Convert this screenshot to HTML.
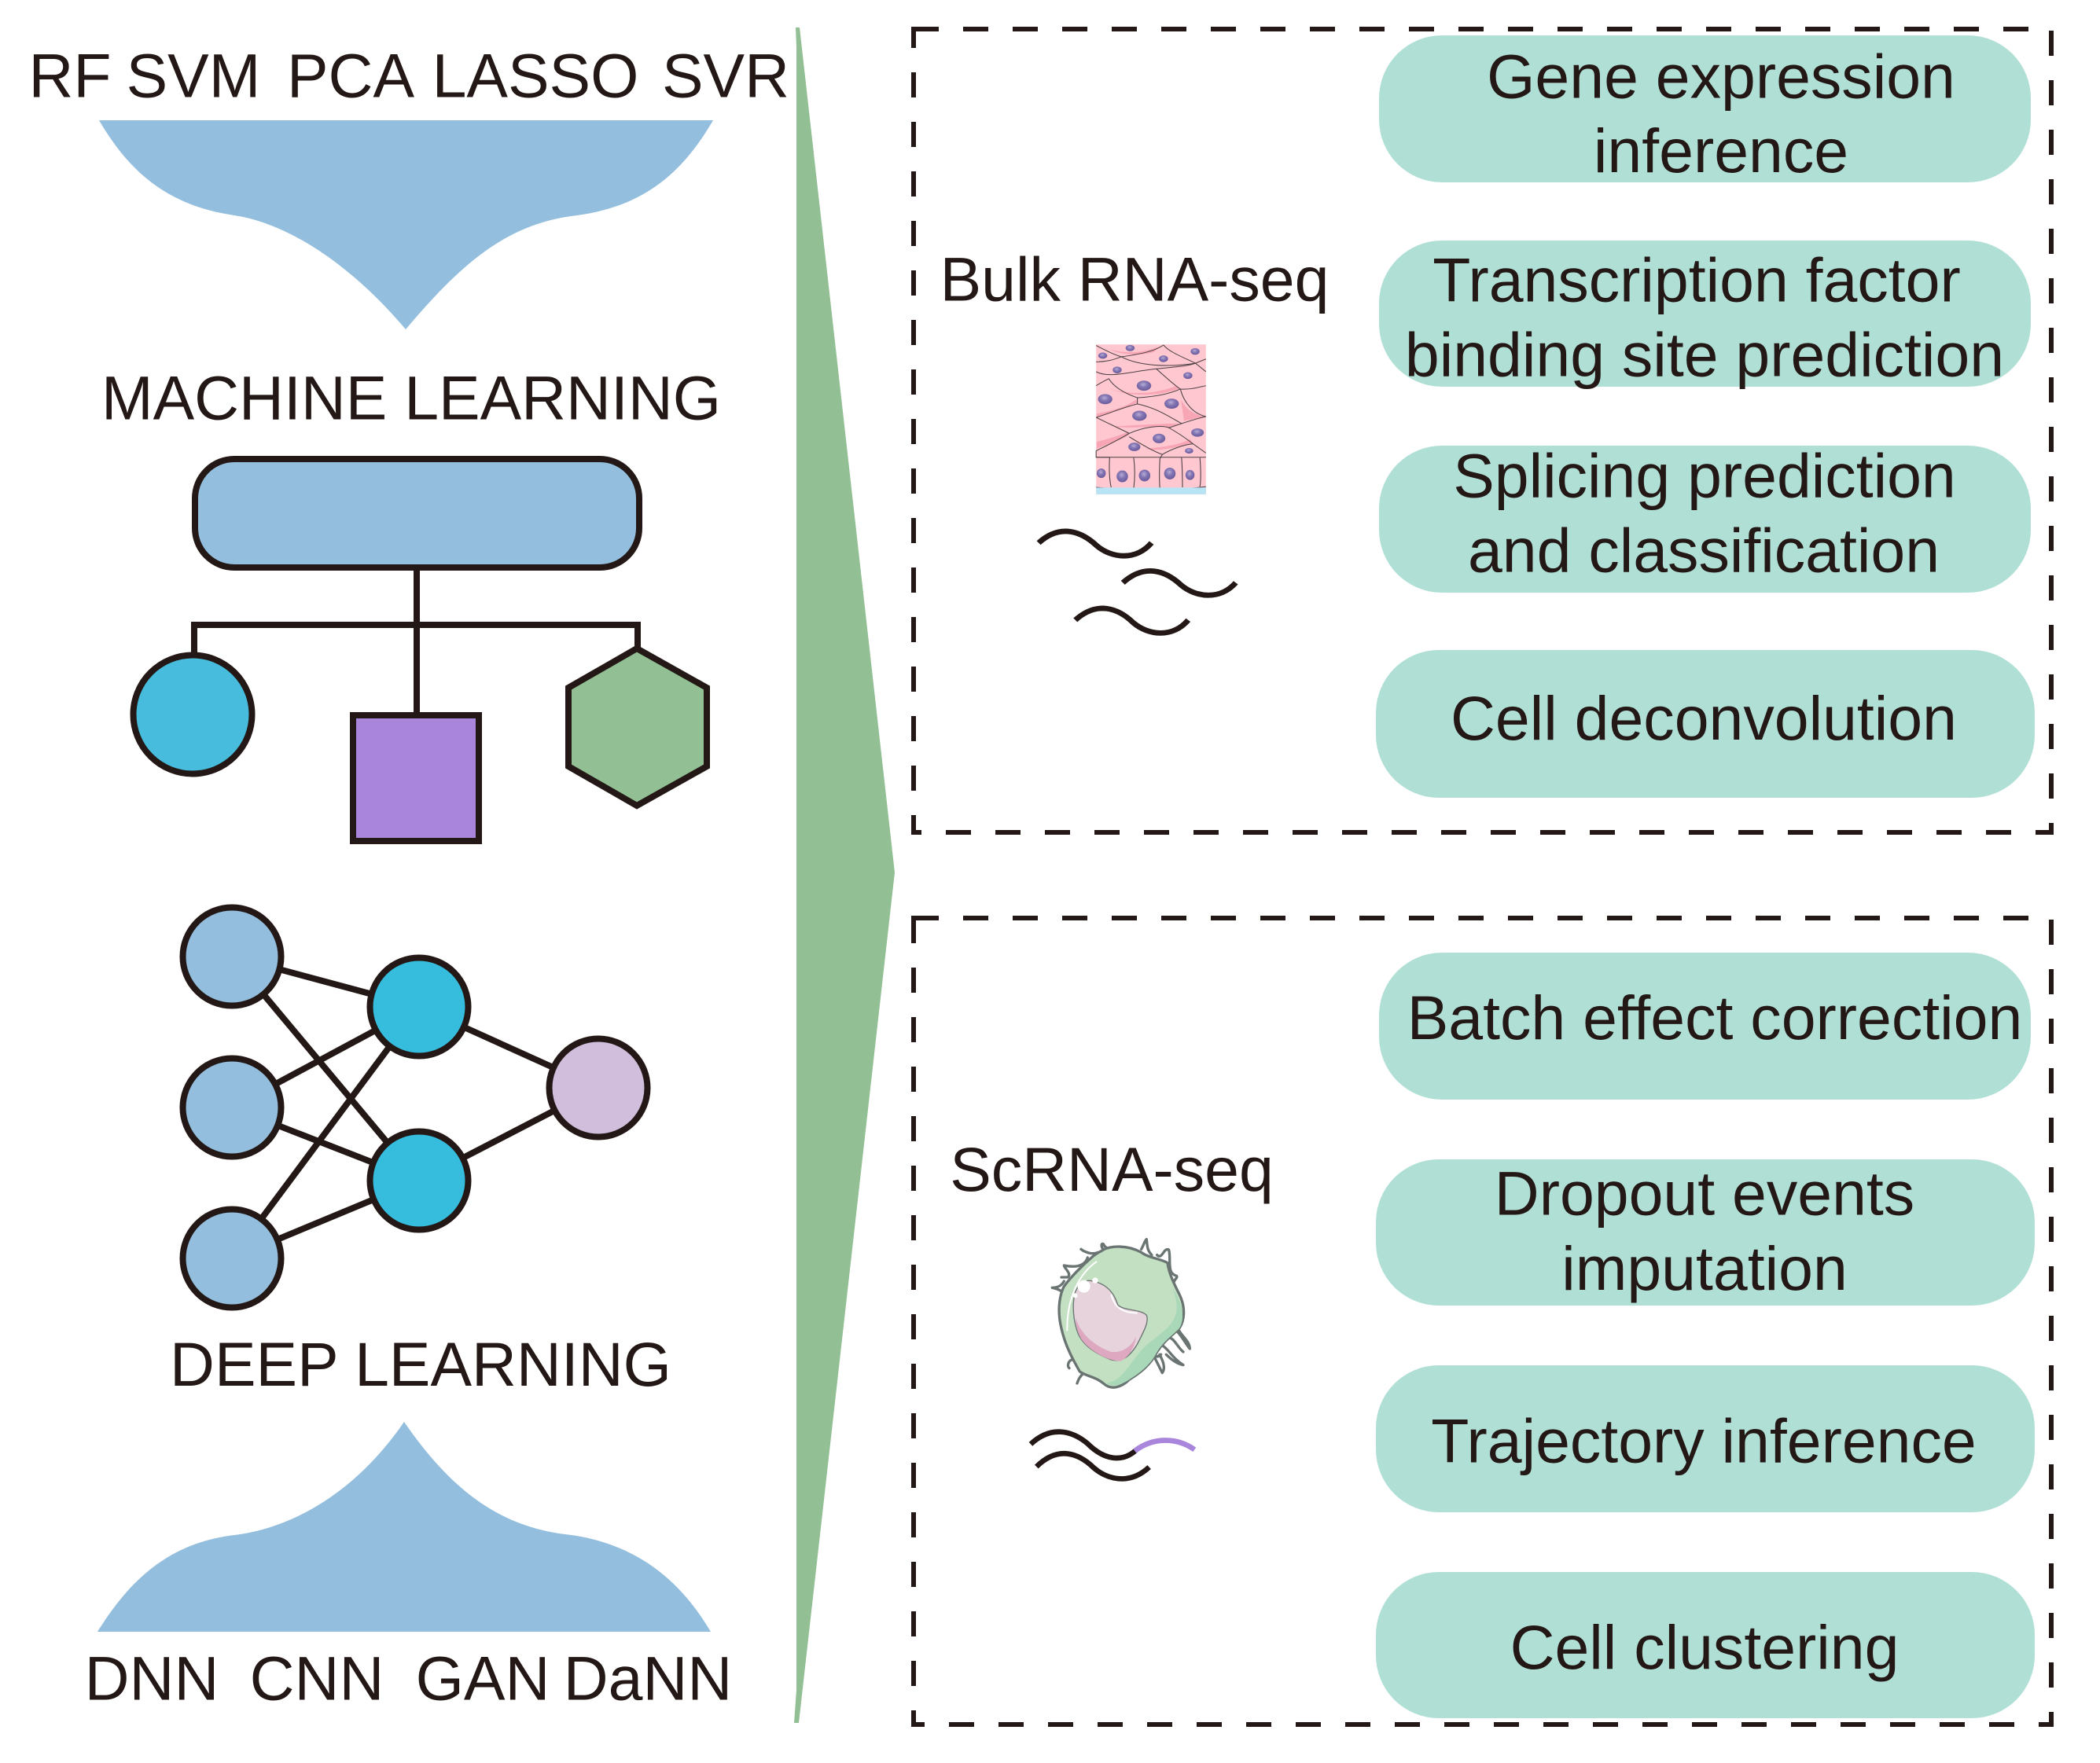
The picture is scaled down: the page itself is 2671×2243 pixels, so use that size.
<!DOCTYPE html>
<html>
<head>
<meta charset="utf-8">
<style>
html,body{margin:0;padding:0;background:#fff;}
svg{display:block;}
text{font-family:"Liberation Sans",Arial,sans-serif;font-size:78.8px;fill:#231815;text-anchor:middle;}
.p{fill:#B0DFD6;}
.k{stroke:#231815;stroke-width:8;fill:none;}
.d{stroke:#231815;stroke-width:6;fill:none;stroke-dasharray:32 31;}
.nn{stroke:#231815;stroke-width:8;}
</style>
</head>
<body>
<svg width="2671" height="2243" viewBox="0 0 2671 2243" xmlns="http://www.w3.org/2000/svg">
<defs>
<radialGradient id="nuc" cx="45%" cy="38%" r="65%">
<stop offset="0" stop-color="#B5ABD6"/>
<stop offset="0.45" stop-color="#8375B2"/>
<stop offset="1" stop-color="#67589A"/>
</radialGradient>
</defs>
<rect width="2671" height="2243" fill="#fff"/>

<!-- Left labels -->
<text x="89" y="123.5">RF</text>
<text x="246" y="123.5">SVM</text>
<text x="446" y="123.5">PCA</text>
<text x="681" y="123.5">LASSO</text>
<text x="923" y="123.5">SVR</text>

<path fill="#93BEDD" d="M126,153 L907,153 C868,220 820,262 734,274 C645,284 587,335 516,419 C445,335 365,284 298,274 C215,262 165,220 126,153 Z"/>

<text x="523" y="533.5">MACHINE LEARNING</text>

<rect x="248" y="584" width="565" height="138" rx="50" ry="50" fill="#93BEDD" stroke="#231815" stroke-width="8"/>
<path class="k" d="M530,722 V910 M247,830 V795 H811 V826"/>
<circle cx="245" cy="909" r="75.5" fill="#47BCDD" stroke="#231815" stroke-width="8"/>
<rect x="449" y="910" width="160" height="160" fill="#A986DC" stroke="#231815" stroke-width="8"/>
<polygon points="810,825 899,875 899,975 810,1025 723,975 723,875" fill="#93BF94" stroke="#231815" stroke-width="8"/>

<!-- Neural net -->
<g class="nn">
<line x1="295" y1="1217" x2="533" y2="1281"/>
<line x1="295" y1="1217" x2="533" y2="1502"/>
<line x1="295" y1="1409" x2="533" y2="1281"/>
<line x1="295" y1="1409" x2="533" y2="1502"/>
<line x1="295" y1="1601" x2="533" y2="1281"/>
<line x1="295" y1="1601" x2="533" y2="1502"/>
<line x1="533" y1="1281" x2="761" y2="1384"/>
<line x1="533" y1="1502" x2="761" y2="1384"/>
<circle cx="295" cy="1217" r="62.5" fill="#93BEDD"/>
<circle cx="295" cy="1409" r="62.5" fill="#93BEDD"/>
<circle cx="295" cy="1601" r="62.5" fill="#93BEDD"/>
<circle cx="533" cy="1281" r="62.5" fill="#36BDDD"/>
<circle cx="533" cy="1502" r="62.5" fill="#36BDDD"/>
<circle cx="761" cy="1384" r="62.5" fill="#D0BEDC"/>
</g>

<text x="535" y="1763">DEEP LEARNING</text>

<path fill="#93BEDD" d="M124,2076 L904,2076 C865,2010 810,1965 727,1953 C645,1945 580,1905 514,1809 C448,1905 365,1945 298,1953 C215,1963 165,2010 124,2076 Z"/>

<text x="193" y="2162.5">DNN</text>
<text x="403" y="2162.5">CNN</text>
<text x="614" y="2162.5">GAN</text>
<text x="824" y="2162.5">DaNN</text>

<!-- Green wedge -->
<polygon fill="#93BF94" points="1012,35 1017,35 1138,1110 1016,2192 1010,2192 1013,2150 1013,60"/>

<!-- Dashed boxes -->
<rect class="d" x="1162" y="37" width="1447" height="1022"/>
<rect class="d" x="1162" y="1168" width="1447" height="1026"/>

<!-- Pills -->
<rect class="p" x="1754" y="45" width="829" height="187" rx="80" ry="80"/>
<rect class="p" x="1754" y="306" width="829" height="186" rx="80" ry="80"/>
<rect class="p" x="1754" y="567" width="829" height="187" rx="80" ry="80"/>
<rect class="p" x="1750" y="827" width="838" height="188" rx="80" ry="80"/>
<rect class="p" x="1754" y="1212" width="829" height="187" rx="80" ry="80"/>
<rect class="p" x="1750" y="1475" width="838" height="186" rx="80" ry="80"/>
<rect class="p" x="1750" y="1737" width="838" height="187" rx="80" ry="80"/>
<rect class="p" x="1750" y="2000" width="838" height="186" rx="80" ry="80"/>

<text x="2189" y="124.5">Gene expression</text>
<text x="2189" y="219">inference</text>
<text x="2158" y="383.5">Transcription factor</text>
<text x="2168" y="478.5">binding site prediction</text>
<text x="2168" y="632.5">Splicing prediction</text>
<text x="2167" y="727.5">and classification</text>
<text x="2167" y="941">Cell deconvolution</text>
<text x="2181" y="1322">Batch effect correction</text>
<text x="2168" y="1545.5">Dropout events</text>
<text x="2168" y="1641">imputation</text>
<text x="2167" y="1860.5">Trajectory inference</text>
<text x="2168" y="2123">Cell clustering</text>

<text x="1443" y="382.5">Bulk RNA-seq</text>
<text x="1414" y="1515">ScRNA-seq</text>

<!-- Bulk tissue illustration -->
<g transform="translate(1150,280) scale(0.3827,0.3571)">
<rect x="638" y="443" width="365" height="534" fill="#FFC7CF"/>
<g fill="#F8A5B5">
<path d="M680,460 C750,480 800,470 850,450 L830,470 C780,485 720,480 680,460Z"/>
<path d="M640,690 C690,680 740,665 770,640 L775,650 C730,670 680,690 640,700Z"/>
<path d="M640,790 C680,780 720,765 745,755 L748,765 C710,790 670,800 640,815Z"/>
<path d="M920,640 C940,680 970,695 1000,700 L930,715 Z"/>
<path d="M680,600 C750,625 840,620 905,590 L915,600 C840,630 750,630 680,600Z"/>
<path d="M800,815 C860,810 920,800 950,780 L958,795 C900,810 850,825 800,815Z"/>
<path d="M700,735 C780,730 860,725 915,725 L880,738 C810,732 750,745 700,735Z"/>
</g>
<g fill="none" stroke="#4A4044" stroke-width="2.8">
<path d="M638,447 C680,470 700,480 722,487 C770,480 830,470 862,445"/>
<path d="M722,487 C780,520 880,525 968,510 C930,490 880,470 862,445"/>
<path d="M968,510 L1003,540 M968,510 L1003,495"/>
<path d="M638,505 C680,505 700,495 722,487"/>
<path d="M638,540 C680,565 750,540 838,530 C880,570 900,590 918,602 C950,605 980,595 1003,590"/>
<path d="M838,530 C880,525 950,520 968,510"/>
<path d="M638,590 C660,575 670,570 680,565 C700,600 740,620 775,633 C830,630 880,620 918,602"/>
<path d="M775,633 L775,655 C720,670 680,690 638,703"/>
<path d="M775,655 C840,670 880,700 922,725 C950,715 980,705 1003,700"/>
<path d="M918,602 C930,650 960,690 1003,700"/>
<path d="M638,703 C680,725 720,745 748,760 C800,735 860,730 880,740 C930,770 950,790 960,797 L1003,830"/>
<path d="M880,740 L922,725"/>
<path d="M748,760 C700,790 680,800 638,822"/>
<path d="M748,772 C790,800 830,825 858,835 C890,815 930,800 960,797"/>
<path d="M638,822 L638,845 L683,845 M858,835 L850,850"/>
<path d="M638,845 H1003"/>
<path d="M683,845 C680,890 683,930 688,952 M763,847 C768,890 766,930 763,955 M850,850 C848,890 848,930 850,958 M922,847 C925,890 925,930 925,952 M983,847 C986,890 986,930 983,950"/>
<path d="M638,952 C700,960 800,965 850,960 C900,965 950,955 1003,950"/>
</g>
<rect x="638" y="953" width="365" height="24" fill="#B8E4F5"/>
<g fill="url(#nuc)">
<ellipse cx="751" cy="456" rx="15" ry="11"/>
<ellipse cx="660" cy="483" rx="15" ry="11"/>
<ellipse cx="862" cy="494" rx="15" ry="12"/>
<ellipse cx="967" cy="468" rx="15" ry="12"/>
<ellipse cx="708" cy="534" rx="15" ry="12"/>
<ellipse cx="943" cy="554" rx="15" ry="12"/>
<ellipse cx="797" cy="590" rx="24" ry="18"/>
<ellipse cx="668" cy="638" rx="24" ry="18"/>
<ellipse cx="889" cy="654" rx="24" ry="18"/>
<ellipse cx="782" cy="697" rx="24" ry="18"/>
<ellipse cx="975" cy="757" rx="21" ry="15"/>
<ellipse cx="847" cy="778" rx="21" ry="17"/>
<ellipse cx="765" cy="808" rx="20" ry="15"/>
<ellipse cx="947" cy="822" rx="14" ry="10"/>
<ellipse cx="655" cy="902" rx="15" ry="17"/>
<ellipse cx="725" cy="913" rx="19" ry="21"/>
<ellipse cx="799" cy="910" rx="19" ry="21"/>
<ellipse cx="883" cy="903" rx="19" ry="21"/>
<ellipse cx="950" cy="908" rx="15" ry="18"/>
</g>
</g>

<!-- Bulk RNA squiggles -->
<g transform="translate(1150,280) scale(0.3827,0.3571)" fill="none" stroke="#231815" stroke-width="19">
<path d="M447,1150 C520,1080 590,1110 640,1160 C690,1205 770,1215 822,1150"/>
<path d="M727,1292 C800,1222 870,1250 920,1300 C970,1345 1050,1355 1102,1292"/>
<path d="M569,1425 C642,1355 712,1383 762,1435 C812,1480 892,1490 944,1425"/>
</g>

<!-- Single cell illustration -->
<g transform="translate(1150,1430) scale(0.3333)">
<g fill="none" stroke="#6A7472" stroke-width="10" stroke-linecap="round" stroke-linejoin="round">
<path d="M760,480 C750,465 752,455 760,458 C765,470 775,475 785,475 M740,490 C720,500 690,490 675,478 M700,510 C690,540 660,550 610,540 C610,550 640,570 625,585 L600,585 M610,600 C600,620 580,625 565,625 C590,630 605,640 610,650"/>
<path d="M905,478 C915,460 918,445 925,440 C928,460 925,480 945,500 M965,500 C985,520 990,470 1010,480 C1020,520 1000,570 1040,580 C1045,590 1025,595 1030,610"/>
<path d="M1040,790 C1060,810 1075,840 1090,858 C1090,830 1060,810 1050,790 M1000,815 C1030,810 1040,850 1065,870 M985,845 C1010,860 1020,890 1065,920 C1040,915 1020,900 1000,880 M980,880 C970,890 960,890 950,880 M950,880 L985,950 C1000,930 985,900 975,880"/>
<path d="M640,900 C625,905 622,925 630,932 M685,950 C670,965 665,975 660,990"/>
</g>
<path fill="#C3E0C2" stroke="#6A7472" stroke-width="10" stroke-linejoin="round" d="M760,480 C790,465 850,460 905,490 C930,510 980,515 1005,530 C1010,570 1030,610 1050,650 C1075,700 1070,750 1050,780 C1020,810 990,830 965,870 C940,920 900,950 860,975 C830,1005 790,1018 760,990 C730,965 700,965 670,945 C650,910 615,850 600,780 C585,720 590,660 610,620 C635,585 680,540 715,510 C730,495 745,490 760,480 Z"/>
<path fill="#A9D8B8" d="M1020,620 C1060,680 1075,740 1050,780 C1020,810 990,830 965,870 C940,920 900,950 860,975 C830,995 800,1005 770,990 C830,980 850,930 900,870 C950,810 1040,780 1040,700 C1040,670 1030,640 1020,620 Z"/>
<path fill="#E6D3DC" stroke="#6A7472" stroke-width="4" d="M720,600 C770,610 800,640 815,690 C840,715 900,705 925,730 C935,755 915,790 890,840 C860,890 830,910 790,900 C740,880 680,850 660,790 C640,730 640,650 665,620 C680,600 700,595 720,600 Z"/>
<path fill="#DDA8C0" d="M655,740 C670,800 730,850 790,870 C830,875 870,850 885,810 C880,850 860,890 825,905 C780,905 710,870 675,820 C660,790 655,770 655,740 Z"/>
<path fill="none" stroke="#fff" stroke-width="6" d="M735,525 C670,570 620,660 622,790 M790,650 C800,690 820,720 890,722"/>
<circle cx="686" cy="620" r="24" fill="#fff"/>
<circle cx="729" cy="597" r="11" fill="#fff"/>
<circle cx="653" cy="655" r="9" fill="#fff"/>
</g>

<!-- ScRNA squiggles -->
<g transform="translate(1150,1430) scale(0.3333)" fill="none" stroke-width="20">
<path stroke="#231815" d="M483,1222 C560,1150 640,1170 700,1220 C760,1280 830,1295 885,1245"/>
<path stroke="#231815" d="M505,1308 C580,1235 650,1250 710,1300 C770,1360 860,1380 935,1310"/>
<path stroke="#A986DC" d="M880,1248 C950,1195 1040,1195 1108,1243"/>
</g>
</svg>
</body>
</html>
